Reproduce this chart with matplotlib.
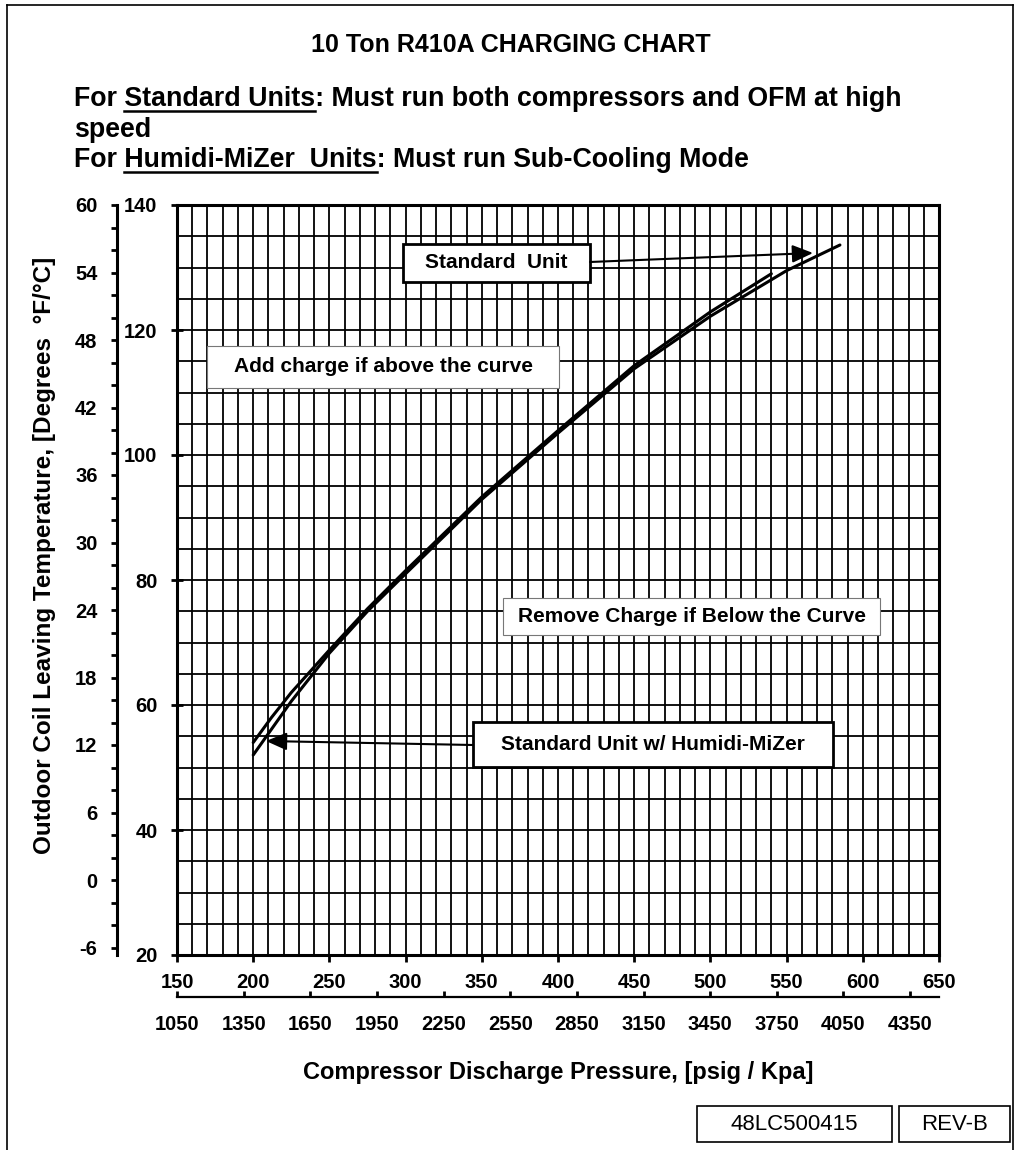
import matplotlib
matplotlib.use('Agg')
import matplotlib.pyplot as plt
from matplotlib.ticker import MultipleLocator, FixedLocator
from matplotlib.patches import Rectangle
from matplotlib.lines import Line2D

plt.rcParams['font.family'] = ['Liberation Sans', 'DejaVu Sans']
plt.rcParams['axes.unicode_minus'] = False

# ---------------- data ----------------
std_psig = [200, 225, 250, 275, 300, 350, 400, 450, 500, 550, 585]
std_temp = [52.0, 60.6, 68.3, 75.0, 81.0, 92.9, 103.5, 113.8, 122.2, 129.5, 133.6]
hm_psig = [200, 212, 225, 250, 275, 300, 350, 400, 450, 500, 540]
hm_temp = [54.0, 58.0, 62.0, 68.8, 75.4, 81.5, 93.3, 103.9, 114.3, 122.9, 129.0]

psig_ticks = list(range(150, 651, 50))
kpa_ticks = list(range(1050, 4351, 300))
degf_ticks = list(range(20, 141, 20))
degc_ticks = list(range(-6, 61, 6))

title = '10 Ton R410A CHARGING CHART'
line1 = [('For ', False), ('Standard Units', True), (': Must run both compressors and OFM at high', False)]
line2 = [('speed', False)]
line3 = [('For ', False), ('Humidi-MiZer  Units', True), (': Must run Sub-Cooling Mode', False)]
xlabel = 'Compressor Discharge Pressure, [psig / Kpa]'
ylabel = 'Outdoor Coil Leaving Temperature, [Degrees  \u00b0F/\u00b0C]'
doc_no = '48LC500415'
rev = 'REV-B'

# ---------------- figure ----------------
W, H = 1018, 1150
fig = plt.figure(figsize=(W / 100, H / 100), dpi=100)


def fx(px):
    return px / W


def fy(py):
    return 1 - py / H


L, R, T, B = 177, 939, 205, 955
ax = fig.add_axes([fx(L), fy(B), (R - L) / W, (B - T) / H])
ax.set_xlim(150, 650)
ax.set_ylim(20, 140)

ax.xaxis.set_major_locator(FixedLocator(psig_ticks))
ax.xaxis.set_minor_locator(MultipleLocator(10))
ax.yaxis.set_major_locator(FixedLocator(degf_ticks))
ax.yaxis.set_minor_locator(MultipleLocator(5))
ax.grid(which='both', color='black', linewidth=1.3)

for s in ax.spines.values():
    s.set_linewidth(2.2)

ax.tick_params(axis='x', which='major', direction='out', length=5, width=2,
               labelsize=14.5, pad=8)
ax.tick_params(axis='y', which='major', direction='inout', length=8, width=2,
               labelsize=14.5, pad=10)
ax.tick_params(which='minor', length=0)
for lab in ax.get_xticklabels() + ax.get_yticklabels():
    lab.set_fontweight('bold')

# curves
ax.plot(std_psig, std_temp, color='black', lw=2.2, solid_capstyle='round', zorder=4)
ax.plot(hm_psig, hm_temp, color='black', lw=2.2, solid_capstyle='round', zorder=4)


# Celsius secondary axis
def f2c(f):
    return (f - 32) * 5 / 9


def c2f(c):
    return c * 9 / 5 + 32


secy = ax.secondary_yaxis((117 - L) / (R - L), functions=(f2c, c2f))
secy.yaxis.set_major_locator(FixedLocator(degc_ticks))
secy.yaxis.set_minor_locator(MultipleLocator(2))
secy.tick_params(which='major', direction='out', length=4, width=2, labelsize=14.5, pad=10)
secy.tick_params(which='minor', direction='out', length=4, width=2)
secy.spines['left'].set_linewidth(2.2)
for lab in secy.get_yticklabels():
    lab.set_fontweight('bold')

# kPa secondary axis
K = 6.86


def p2k(p):
    return 1050 + (p - 150) * K


def k2p(k):
    return 150 + (k - 1050) / K


secx = ax.secondary_xaxis(-(997 - B) / (B - T), functions=(p2k, k2p))
secx.xaxis.set_major_locator(FixedLocator(kpa_ticks))
secx.tick_params(direction='in', length=4.5, width=2, labelsize=14.5, pad=13)
secx.spines['bottom'].set_linewidth(1.6)
for lab in secx.get_xticklabels():
    lab.set_fontweight('bold')


# ---------------- boxes in plot ----------------
def px2data(x, y):
    return 150 + (x - L) * 500 / (R - L), 140 - (y - T) * 120 / (B - T)


def box(x0, y0, x1, y1, text, lw, ec, fs=15):
    (a, b), (c, d) = px2data(x0, y1), px2data(x1, y0)
    ax.add_patch(Rectangle((a, b), c - a, d - b, facecolor='white', edgecolor=ec,
                           lw=lw, zorder=5))
    ax.text((a + c) / 2, (b + d) / 2, text, ha='center', va='center', fontsize=fs,
            weight='bold', zorder=6)


box(403, 244, 590, 282, 'Standard  Unit', 2.0, 'black')
box(207, 346, 559, 388, 'Add charge if above the curve', 0.8, '#777777')
box(503, 598, 880, 635, 'Remove Charge if Below the Curve', 0.8, '#777777')
box(473, 722, 833, 767, 'Standard Unit w/ Humidi-MiZer', 2.0, 'black')

arrow = dict(arrowstyle='-|>,head_length=0.7,head_width=0.3', color='black', lw=1.5,
             shrinkA=0, shrinkB=0, mutation_scale=18)
ax.annotate('', xy=px2data(813, 253), xytext=px2data(590, 262), arrowprops=arrow, zorder=6)
ax.annotate('', xy=px2data(266, 741), xytext=px2data(473, 745), arrowprops=arrow, zorder=6)

# ---------------- labels & titles ----------------
fig.text(fx(558), fy(1072), xlabel, ha='center', va='center', fontsize=17, weight='bold')
fig.text(fx(45), fy(555), ylabel, ha='center', va='center', rotation=90, fontsize=17.5,
         weight='bold')
fig.text(fx(511), fy(45), title, ha='center', va='center', fontsize=18, weight='bold')

renderer = fig.canvas.get_renderer()


def text_line(x, y, parts, fs):
    full = ''.join(p for p, _ in parts)
    fig.text(fx(x), fy(y), full, fontsize=fs, weight='bold', ha='left', va='baseline')
    prefix = ''
    for txt, ul in parts:
        if ul:
            t1 = fig.text(0, 0, prefix + txt, fontsize=fs, weight='bold')
            t2 = fig.text(0, 0, txt, fontsize=fs, weight='bold')
            w1 = t1.get_window_extent(renderer).width
            w2 = t2.get_window_extent(renderer).width
            t1.remove()
            t2.remove()
            fig.add_artist(Line2D([fx(x + w1 - w2), fx(x + w1)], [fy(y + 5)] * 2,
                                  color='black', lw=1.8))
        prefix += txt


text_line(74, 106, line1, 19.3)
text_line(74, 137, line2, 19.3)
text_line(74, 167, line3, 19.3)

# bottom-right boxes
for (x0, x1, txt) in [(697, 892, doc_no), (899, 1010, rev)]:
    fig.add_artist(Rectangle((fx(x0), fy(1142)), (x1 - x0) / W, (1142 - 1106) / H,
                             transform=fig.transFigure, facecolor='white',
                             edgecolor='black', lw=1.2))
    fig.text(fx((x0 + x1) / 2), fy(1124), txt, ha='center', va='center', fontsize=16)

# page border
fig.add_artist(Line2D([fx(7), fx(7)], [fy(5), 0], color='black', lw=1.2))
fig.add_artist(Line2D([fx(7), fx(1013)], [fy(5), fy(5)], color='black', lw=1.2))
fig.add_artist(Line2D([fx(1013), fx(1013)], [fy(5), 0], color='black', lw=1.2))

fig.savefig('out.png', dpi=100, facecolor='white')
